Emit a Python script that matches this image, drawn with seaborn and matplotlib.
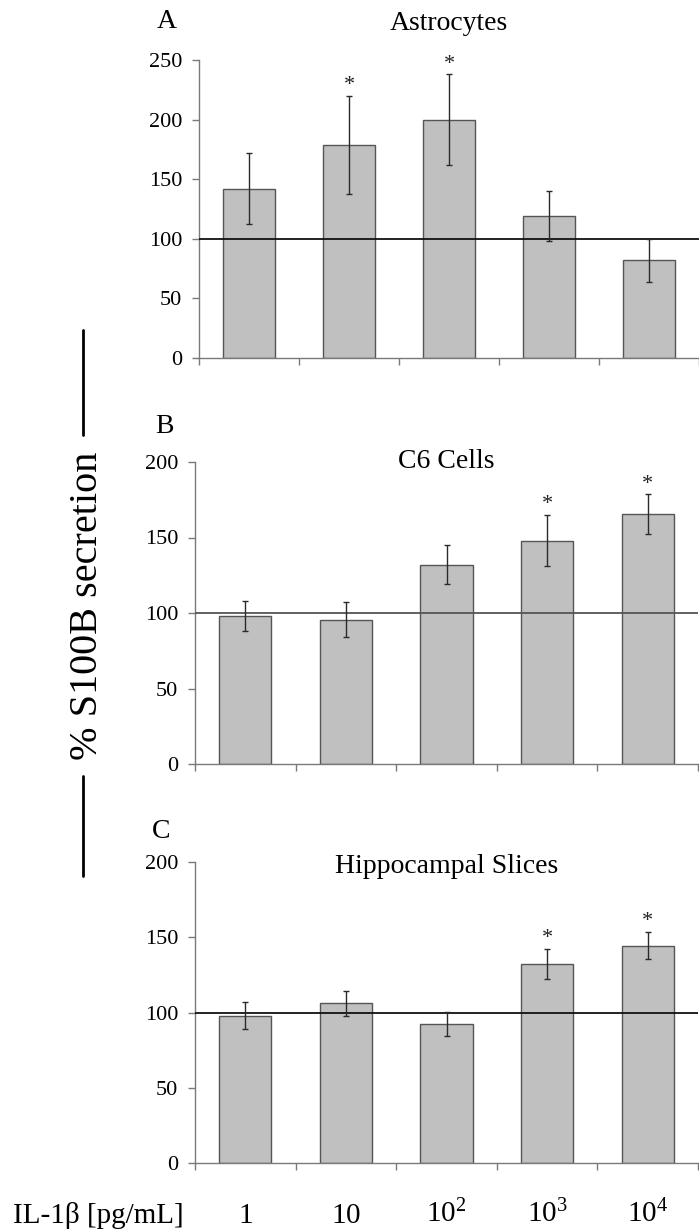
import numpy as np
import pandas as pd
import matplotlib
matplotlib.use("Agg")
import matplotlib.pyplot as plt
from matplotlib.lines import Line2D
import seaborn as sns

# ---------------- data ----------------
concentrations = ["1", "10", "10^2", "10^3", "10^4"]
conc_labels = [r"$\mathrm{1}$", r"$\mathrm{10}$", r"$\mathrm{10^{2}}$",
               r"$\mathrm{10^{3}}$", r"$\mathrm{10^{4}}$"]

panel_titles = ["Astrocytes", "C6 Cells", "Hippocampal Slices"]
panel_letters = ["A", "B", "C"]

astro_mean = [142, 179, 200, 119, 82]
astro_err = [30, 41, 38, 21, 18]
astro_sig = [1, 2]

c6_mean = [98, 95.5, 132, 148, 165.5]
c6_err = [10, 11.5, 13, 17, 13]
c6_sig = [3, 4]

hippo_mean = [98, 106, 92.5, 132.5, 144.5]
hippo_err = [9, 8.5, 8, 10, 9]
hippo_sig = [3, 4]

y_max = [250, 200, 200]
y_ticks = [[0, 50, 100, 150, 200, 250], [0, 50, 100, 150, 200], [0, 50, 100, 150, 200]]
control_level = 100

y_label = "% S100B secretion"
x_label = "IL-1\u03b2 [pg/mL]"

# ---------------- style ----------------
sns.set_theme(style="white")
plt.rcParams["font.family"] = ["Liberation Serif", "DejaVu Serif"]
plt.rcParams["mathtext.fontset"] = "custom"
plt.rcParams["mathtext.rm"] = "Liberation Serif"
plt.rcParams["mathtext.it"] = "Liberation Serif:italic"
plt.rcParams["mathtext.bf"] = "Liberation Serif:bold"

W, H = 699, 1232
fig = plt.figure(figsize=(W / 100, H / 100), dpi=100)
fig.patch.set_facecolor("white")

def fx(px):
    return px / W

def fy(py):
    return 1 - py / H

# axes boxes in pixels: left, right, top, bottom
boxes = [(199, 699, 60, 358), (195, 698, 462, 764), (195, 698, 862, 1163)]
title_y = [1.1007, 0.980, 0.9635]
letter_pos = [(157, 28), (155, 433), (152, 838)]
ref_colors = ["#111111", "#555555", "#111111"]

means = [astro_mean, c6_mean, hippo_mean]
errs = [astro_err, c6_err, hippo_err]
sigs = [astro_sig, c6_sig, hippo_sig]

spine_col = "#7a7a7a"

for k in range(3):
    l, r, t, b = boxes[k]
    ax = fig.add_axes([fx(l), fy(b), (r - l) / W, (b - t) / H])
    df = pd.DataFrame({"conc": concentrations, "value": means[k]})
    sns.barplot(data=df, x="conc", y="value", order=concentrations, ax=ax,
                color="#c0c0c0", saturation=1, edgecolor="#555555",
                linewidth=1.0, width=0.52, errorbar=None, zorder=2)
    ax.errorbar(np.arange(len(concentrations)), means[k], yerr=errs[k],
                fmt="none", ecolor="#2a2a2a", elinewidth=1.0, capsize=2.5,
                capthick=1.0, zorder=4)
    ax.axhline(control_level, color=ref_colors[k], lw=1.3, zorder=3)
    for i in sigs[k]:
        ax.annotate("*", (i, means[k][i] + errs[k][i]), xytext=(0, 4),
                    textcoords="offset points", ha="center", va="baseline",
                    fontsize=16, color="#222222")

    ax.set_xlim(-0.5, len(concentrations) - 0.5)
    ax.set_ylim(0, y_max[k])
    ax.set_yticks(y_ticks[k])
    ax.set_yticklabels([str(v) for v in y_ticks[k]])
    ax.set_xticks(np.arange(-0.5, len(concentrations), 1.0))
    ax.set_xticklabels([])
    ax.set_xlabel("")
    ax.set_ylabel("")

    for s in ["top", "right"]:
        ax.spines[s].set_visible(False)
    for s in ["left", "bottom"]:
        ax.spines[s].set_color(spine_col)
        ax.spines[s].set_linewidth(1.0)

    ax.tick_params(axis="y", direction="out", length=5, width=1,
                   color=spine_col, pad=7, labelsize=16, labelcolor="black",
                   left=True)
    ax.tick_params(axis="x", which="major", direction="out", length=5,
                   width=1, color=spine_col, bottom=True)

    ax.text(2, title_y[k], panel_titles[k], transform=ax.get_xaxis_transform(),
            ha="center", va="baseline", fontsize=20, color="black",
            clip_on=False)
    lx, ly = letter_pos[k]
    fig.text(fx(lx), fy(ly), panel_letters[k], ha="left", va="baseline",
             fontsize=20, color="black")

    if k == 2:
        ax.set_xticks(np.arange(len(concentrations)), minor=True)
        ax.set_xticklabels(conc_labels, minor=True)
        ax.tick_params(axis="x", which="minor", length=0, pad=43,
                       labelsize=21, labelcolor="black")
        for lab in ax.get_xticklabels(minor=True):
            lab.set_va("baseline")

# y label with bars
fig.text(fx(88), fy(606), y_label, rotation=90, ha="center", va="center",
         fontsize=29, color="black")
fig.add_artist(Line2D([fx(83), fx(83)], [fy(330), fy(435)], color="black",
                      lw=2.0, transform=fig.transFigure))
fig.add_artist(Line2D([fx(83), fx(83)], [fy(776), fy(876)], color="black",
                      lw=2.0, transform=fig.transFigure))

fig.text(fx(13), fy(1223), x_label, ha="left", va="baseline", fontsize=21,
         color="black")

fig.savefig("out.png", dpi=100, facecolor="white")
